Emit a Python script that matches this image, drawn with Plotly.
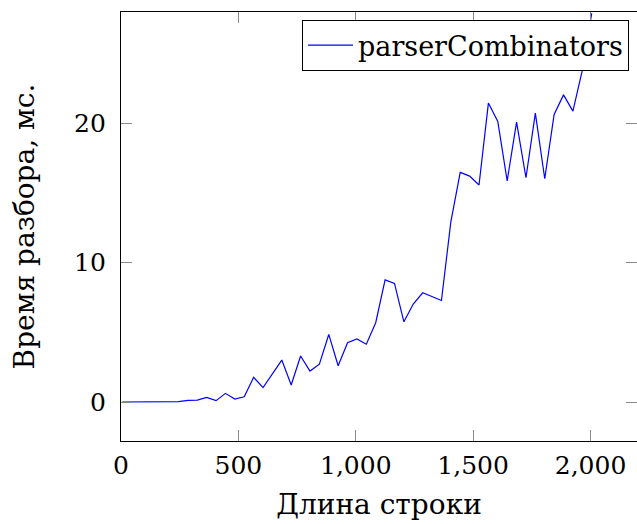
import plotly.graph_objects as go

# Data
lengths = [5, 45, 85, 125, 165, 205, 245, 285, 325, 365,
           405, 445, 485, 525, 565, 605, 645, 685, 725, 765,
           805, 845, 885, 925, 965, 1005, 1045, 1085, 1125, 1165,
           1205, 1245, 1285, 1325, 1365, 1405, 1445, 1485, 1525, 1565,
           1605, 1645, 1685, 1725, 1765, 1805, 1845, 1885, 1925, 1965,
           2005]
times_ms = [0.0, 0.0, 0.0, 0.0, 0.0, 0.01, 0.03, 0.12, 0.14, 0.33,
            0.10, 0.62, 0.21, 0.38, 1.77, 1.03, 2.0, 3.01, 1.22, 3.30,
            2.22, 2.72, 4.85, 2.60, 4.25, 4.53, 4.15, 5.69, 8.77, 8.51,
            5.76, 7.03, 7.84, 7.55, 7.29, 12.93, 16.49, 16.22, 15.58, 21.46,
            20.14, 15.87, 20.10, 16.10, 20.74, 16.03, 20.65, 22.05, 20.88, 23.8,
            27.9]
series_name = "parserCombinators"
x_title = "Длина строки"
y_title = "Время разбора, мс."
x_ticks = [0, 500, 1000, 1500, 2000]
y_ticks = [0, 10, 20]

FONT = "DejaVu Serif"
FS = 25
TFS = 28

fig = go.Figure()
fig.add_trace(go.Scatter(
    x=lengths, y=times_ms, mode="lines", name=series_name,
    line=dict(color="rgb(0,0,255)", width=1.2),
))

axis_common = dict(
    showline=True, linecolor="black", linewidth=1.3,
    mirror="ticks", ticks="inside", ticklen=11, tickwidth=1.2,
    tickcolor="#8a8a8a", showgrid=False, zeroline=False,
    automargin=False,
    tickfont=dict(family=FONT, size=FS, color="black"),
)

fig.update_layout(
    width=637, height=524,
    margin=dict(l=121, r=0, t=12, b=83),
    paper_bgcolor="white", plot_bgcolor="white",
    font=dict(family=FONT, size=FS, color="black"),
    showlegend=True,
    legend=dict(
        x=0.9845, xanchor="right", y=0.981, yanchor="top",
        bgcolor="white", bordercolor="black", borderwidth=1,
        itemwidth=45,
        font=dict(family=FONT, size=27, color="black"),
    ),
    xaxis=dict(
        range=[0, 2198], tickvals=x_ticks, tickformat=",d",
        ticklabelstandoff=2,
        title=dict(text=x_title, font=dict(family=FONT, size=TFS), standoff=15),
        **axis_common,
    ),
    yaxis=dict(
        range=[-2.8, 28], tickvals=y_ticks,
        ticklabelstandoff=9,
        title=dict(text=y_title, font=dict(family=FONT, size=TFS), standoff=31),
        **axis_common,
    ),
)

# remove the default page margin so the figure fills the window exactly
fig.write_html(
    "out.html",
    config={"displayModeBar": False},
    post_script="document.body.style.margin='0';document.body.style.overflow='hidden';",
)
